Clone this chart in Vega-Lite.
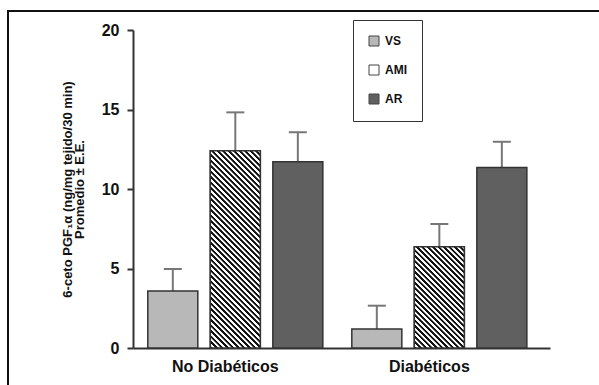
{
  "$schema": "https://vega.github.io/schema/vega-lite/v6.json",
  "width": 615,
  "height": 390,
  "autosize": "none",
  "padding": {"left": 8, "top": 11, "right": -24, "bottom": -16},
  "background": "white",
  "view": {"stroke": "#111111", "strokeWidth": 2},
  "config": {"font": "Liberation Sans"},
  "data": {"values": [
    {"grupo": "No Diabéticos", "serie": "VS", "media": 3.58, "superior": 4.97},
    {"grupo": "No Diabéticos", "serie": "AMI", "media": 12.41, "superior": 14.82},
    {"grupo": "No Diabéticos", "serie": "AR", "media": 11.72, "superior": 13.57},
    {"grupo": "Diabéticos", "serie": "VS", "media": 1.19, "superior": 2.66},
    {"grupo": "Diabéticos", "serie": "AMI", "media": 6.37, "superior": 7.8},
    {"grupo": "Diabéticos", "serie": "AR", "media": 11.36, "superior": 12.97}
  ]},
  "encoding": {
    "x": {
      "field": "grupo", "type": "nominal", "sort": ["No Diabéticos", "Diabéticos"],
      "scale": {"range": [125, 542], "paddingInner": 0.142, "paddingOuter": 0.093, "align": 0.39},
      "axis": {"orient": "bottom", "offset": -53, "title": null, "labelAngle": 0, "ticks": false, "tickSize": 0,
        "labelPadding": 10, "labelFontSize": 16, "labelFontWeight": "bold", "labelColor": "#111111",
        "labelOffset": -10, "domainColor": "#333333", "domainWidth": 2}
    },
    "xOffset": {"field": "serie", "type": "nominal", "sort": ["VS", "AMI", "AR"], "scale": {"paddingInner": 0.2, "paddingOuter": 0}},
    "y": {
      "field": "media", "type": "quantitative", "stack": null,
      "scale": {"domain": [0, 20], "range": [337, 19], "nice": false, "zero": true},
      "axis": {"offset": -125, "values": [0, 5, 10, 15, 20], "grid": false,
        "title": ["6-ceto  PGF₁α  (ng/mg tejido/30 min)", "Promedio ± E.E."],
        "titleFontSize": 13, "titleFontWeight": "bold", "titleColor": "#111111", "titleLineHeight": 12, "titlePadding": 15,
        "labelFontSize": 16, "labelFontWeight": "bold", "labelColor": "#111111", "labelPadding": 8,
        "tickSize": 6, "tickWidth": 2, "tickColor": "#333333", "domainColor": "#333333", "domainWidth": 2}
    }
  },
  "layer": [
    {
      "mark": {"type": "rule", "color": "#777777", "strokeWidth": 2},
      "encoding": {"y2": {"field": "superior"}}
    },
    {
      "mark": {"type": "tick", "color": "#777777", "thickness": 2, "size": 18, "opacity": 1},
      "encoding": {"y": {"field": "superior", "type": "quantitative"}}
    },
    {
      "mark": {"type": "bar", "stroke": "#333333", "strokeWidth": 1.5},
      "encoding": {
        "color": {
          "field": "serie", "type": "nominal",
          "scale": {"domain": ["VS", "AMI", "AR"], "range": ["#b8b8b8", "#ffffff", "#606060"]},
          "legend": {
            "orient": "none", "legendX": 345, "legendY": 9, "title": null,
            "padding": 15, "rowPadding": 15, "strokeColor": "#333333", "fillColor": "#ffffff",
            "symbolType": "square", "symbolSize": 100, "symbolStrokeColor": "#444444", "symbolStrokeWidth": 1, "symbolOpacity": 1,
            "labelFontSize": 12, "labelFontWeight": "bold", "labelColor": "#111111", "labelOffset": 5,
            "encode": {"symbols": {"update": {
              "stroke": {"value": "#444444"},
              "strokeWidth": {"value": 1}
            }}}
          }
        }
      }
    },
    {
      "transform": [{"filter": "datum.serie === 'AMI' && datum.grupo === 'No Diabéticos'"}],
      "mark": {"type": "bar", "stroke": "#333333", "strokeWidth": 1.5,
        "fill": {"gradient": "linear", "x1": 0, "y1": 1, "x2": 0.2987, "y2": -0.1778, "stops": [
          {"offset": 0, "color": "#111111"}, {"offset": 0.00889, "color": "#111111"}, {"offset": 0.01111, "color": "#ffffff"}, {"offset": 0.02, "color": "#ffffff"},
          {"offset": 0.02222, "color": "#111111"}, {"offset": 0.03111, "color": "#111111"}, {"offset": 0.03333, "color": "#ffffff"}, {"offset": 0.04222, "color": "#ffffff"},
          {"offset": 0.04444, "color": "#111111"}, {"offset": 0.05333, "color": "#111111"}, {"offset": 0.05556, "color": "#ffffff"}, {"offset": 0.06444, "color": "#ffffff"},
          {"offset": 0.06667, "color": "#111111"}, {"offset": 0.07556, "color": "#111111"}, {"offset": 0.07778, "color": "#ffffff"}, {"offset": 0.08667, "color": "#ffffff"},
          {"offset": 0.08889, "color": "#111111"}, {"offset": 0.09778, "color": "#111111"}, {"offset": 0.1, "color": "#ffffff"}, {"offset": 0.10889, "color": "#ffffff"},
          {"offset": 0.11111, "color": "#111111"}, {"offset": 0.12, "color": "#111111"}, {"offset": 0.12222, "color": "#ffffff"}, {"offset": 0.13111, "color": "#ffffff"},
          {"offset": 0.13333, "color": "#111111"}, {"offset": 0.14222, "color": "#111111"}, {"offset": 0.14444, "color": "#ffffff"}, {"offset": 0.15333, "color": "#ffffff"},
          {"offset": 0.15556, "color": "#111111"}, {"offset": 0.16444, "color": "#111111"}, {"offset": 0.16667, "color": "#ffffff"}, {"offset": 0.17556, "color": "#ffffff"},
          {"offset": 0.17778, "color": "#111111"}, {"offset": 0.18667, "color": "#111111"}, {"offset": 0.18889, "color": "#ffffff"}, {"offset": 0.19778, "color": "#ffffff"},
          {"offset": 0.2, "color": "#111111"}, {"offset": 0.20889, "color": "#111111"}, {"offset": 0.21111, "color": "#ffffff"}, {"offset": 0.22, "color": "#ffffff"},
          {"offset": 0.22222, "color": "#111111"}, {"offset": 0.23111, "color": "#111111"}, {"offset": 0.23333, "color": "#ffffff"}, {"offset": 0.24222, "color": "#ffffff"},
          {"offset": 0.24444, "color": "#111111"}, {"offset": 0.25333, "color": "#111111"}, {"offset": 0.25556, "color": "#ffffff"}, {"offset": 0.26444, "color": "#ffffff"},
          {"offset": 0.26667, "color": "#111111"}, {"offset": 0.27556, "color": "#111111"}, {"offset": 0.27778, "color": "#ffffff"}, {"offset": 0.28667, "color": "#ffffff"},
          {"offset": 0.28889, "color": "#111111"}, {"offset": 0.29778, "color": "#111111"}, {"offset": 0.3, "color": "#ffffff"}, {"offset": 0.30889, "color": "#ffffff"},
          {"offset": 0.31111, "color": "#111111"}, {"offset": 0.32, "color": "#111111"}, {"offset": 0.32222, "color": "#ffffff"}, {"offset": 0.33111, "color": "#ffffff"},
          {"offset": 0.33333, "color": "#111111"}, {"offset": 0.34222, "color": "#111111"}, {"offset": 0.34444, "color": "#ffffff"}, {"offset": 0.35333, "color": "#ffffff"},
          {"offset": 0.35556, "color": "#111111"}, {"offset": 0.36444, "color": "#111111"}, {"offset": 0.36667, "color": "#ffffff"}, {"offset": 0.37556, "color": "#ffffff"},
          {"offset": 0.37778, "color": "#111111"}, {"offset": 0.38667, "color": "#111111"}, {"offset": 0.38889, "color": "#ffffff"}, {"offset": 0.39778, "color": "#ffffff"},
          {"offset": 0.4, "color": "#111111"}, {"offset": 0.40889, "color": "#111111"}, {"offset": 0.41111, "color": "#ffffff"}, {"offset": 0.42, "color": "#ffffff"},
          {"offset": 0.42222, "color": "#111111"}, {"offset": 0.43111, "color": "#111111"}, {"offset": 0.43333, "color": "#ffffff"}, {"offset": 0.44222, "color": "#ffffff"},
          {"offset": 0.44444, "color": "#111111"}, {"offset": 0.45333, "color": "#111111"}, {"offset": 0.45556, "color": "#ffffff"}, {"offset": 0.46444, "color": "#ffffff"},
          {"offset": 0.46667, "color": "#111111"}, {"offset": 0.47556, "color": "#111111"}, {"offset": 0.47778, "color": "#ffffff"}, {"offset": 0.48667, "color": "#ffffff"},
          {"offset": 0.48889, "color": "#111111"}, {"offset": 0.49778, "color": "#111111"}, {"offset": 0.5, "color": "#ffffff"}, {"offset": 0.50889, "color": "#ffffff"},
          {"offset": 0.51111, "color": "#111111"}, {"offset": 0.52, "color": "#111111"}, {"offset": 0.52222, "color": "#ffffff"}, {"offset": 0.53111, "color": "#ffffff"},
          {"offset": 0.53333, "color": "#111111"}, {"offset": 0.54222, "color": "#111111"}, {"offset": 0.54444, "color": "#ffffff"}, {"offset": 0.55333, "color": "#ffffff"},
          {"offset": 0.55556, "color": "#111111"}, {"offset": 0.56444, "color": "#111111"}, {"offset": 0.56667, "color": "#ffffff"}, {"offset": 0.57556, "color": "#ffffff"},
          {"offset": 0.57778, "color": "#111111"}, {"offset": 0.58667, "color": "#111111"}, {"offset": 0.58889, "color": "#ffffff"}, {"offset": 0.59778, "color": "#ffffff"},
          {"offset": 0.6, "color": "#111111"}, {"offset": 0.60889, "color": "#111111"}, {"offset": 0.61111, "color": "#ffffff"}, {"offset": 0.62, "color": "#ffffff"},
          {"offset": 0.62222, "color": "#111111"}, {"offset": 0.63111, "color": "#111111"}, {"offset": 0.63333, "color": "#ffffff"}, {"offset": 0.64222, "color": "#ffffff"},
          {"offset": 0.64444, "color": "#111111"}, {"offset": 0.65333, "color": "#111111"}, {"offset": 0.65556, "color": "#ffffff"}, {"offset": 0.66444, "color": "#ffffff"},
          {"offset": 0.66667, "color": "#111111"}, {"offset": 0.67556, "color": "#111111"}, {"offset": 0.67778, "color": "#ffffff"}, {"offset": 0.68667, "color": "#ffffff"},
          {"offset": 0.68889, "color": "#111111"}, {"offset": 0.69778, "color": "#111111"}, {"offset": 0.7, "color": "#ffffff"}, {"offset": 0.70889, "color": "#ffffff"},
          {"offset": 0.71111, "color": "#111111"}, {"offset": 0.72, "color": "#111111"}, {"offset": 0.72222, "color": "#ffffff"}, {"offset": 0.73111, "color": "#ffffff"},
          {"offset": 0.73333, "color": "#111111"}, {"offset": 0.74222, "color": "#111111"}, {"offset": 0.74444, "color": "#ffffff"}, {"offset": 0.75333, "color": "#ffffff"},
          {"offset": 0.75556, "color": "#111111"}, {"offset": 0.76444, "color": "#111111"}, {"offset": 0.76667, "color": "#ffffff"}, {"offset": 0.77556, "color": "#ffffff"},
          {"offset": 0.77778, "color": "#111111"}, {"offset": 0.78667, "color": "#111111"}, {"offset": 0.78889, "color": "#ffffff"}, {"offset": 0.79778, "color": "#ffffff"},
          {"offset": 0.8, "color": "#111111"}, {"offset": 0.80889, "color": "#111111"}, {"offset": 0.81111, "color": "#ffffff"}, {"offset": 0.82, "color": "#ffffff"},
          {"offset": 0.82222, "color": "#111111"}, {"offset": 0.83111, "color": "#111111"}, {"offset": 0.83333, "color": "#ffffff"}, {"offset": 0.84222, "color": "#ffffff"},
          {"offset": 0.84444, "color": "#111111"}, {"offset": 0.85333, "color": "#111111"}, {"offset": 0.85556, "color": "#ffffff"}, {"offset": 0.86444, "color": "#ffffff"},
          {"offset": 0.86667, "color": "#111111"}, {"offset": 0.87556, "color": "#111111"}, {"offset": 0.87778, "color": "#ffffff"}, {"offset": 0.88667, "color": "#ffffff"},
          {"offset": 0.88889, "color": "#111111"}, {"offset": 0.89778, "color": "#111111"}, {"offset": 0.9, "color": "#ffffff"}, {"offset": 0.90889, "color": "#ffffff"},
          {"offset": 0.91111, "color": "#111111"}, {"offset": 0.92, "color": "#111111"}, {"offset": 0.92222, "color": "#ffffff"}, {"offset": 0.93111, "color": "#ffffff"},
          {"offset": 0.93333, "color": "#111111"}, {"offset": 0.94222, "color": "#111111"}, {"offset": 0.94444, "color": "#ffffff"}, {"offset": 0.95333, "color": "#ffffff"},
          {"offset": 0.95556, "color": "#111111"}, {"offset": 0.96444, "color": "#111111"}, {"offset": 0.96667, "color": "#ffffff"}, {"offset": 0.97556, "color": "#ffffff"},
          {"offset": 0.97778, "color": "#111111"}, {"offset": 0.98667, "color": "#111111"}, {"offset": 0.98889, "color": "#ffffff"}, {"offset": 0.99778, "color": "#ffffff"},
          {"offset": 1, "color": "#111111"}]}}
    },
    {
      "transform": [{"filter": "datum.serie === 'AMI' && datum.grupo === 'Diabéticos'"}],
      "mark": {"type": "bar", "stroke": "#333333", "strokeWidth": 1.5,
        "fill": {"gradient": "linear", "x1": 0, "y1": 1, "x2": 0.5903, "y2": -0.2013, "stops": [
          {"offset": 0, "color": "#111111"}, {"offset": 0.01429, "color": "#111111"}, {"offset": 0.01786, "color": "#ffffff"}, {"offset": 0.03214, "color": "#ffffff"},
          {"offset": 0.03571, "color": "#111111"}, {"offset": 0.05, "color": "#111111"}, {"offset": 0.05357, "color": "#ffffff"}, {"offset": 0.06786, "color": "#ffffff"},
          {"offset": 0.07143, "color": "#111111"}, {"offset": 0.08571, "color": "#111111"}, {"offset": 0.08929, "color": "#ffffff"}, {"offset": 0.10357, "color": "#ffffff"},
          {"offset": 0.10714, "color": "#111111"}, {"offset": 0.12143, "color": "#111111"}, {"offset": 0.125, "color": "#ffffff"}, {"offset": 0.13929, "color": "#ffffff"},
          {"offset": 0.14286, "color": "#111111"}, {"offset": 0.15714, "color": "#111111"}, {"offset": 0.16071, "color": "#ffffff"}, {"offset": 0.175, "color": "#ffffff"},
          {"offset": 0.17857, "color": "#111111"}, {"offset": 0.19286, "color": "#111111"}, {"offset": 0.19643, "color": "#ffffff"}, {"offset": 0.21071, "color": "#ffffff"},
          {"offset": 0.21429, "color": "#111111"}, {"offset": 0.22857, "color": "#111111"}, {"offset": 0.23214, "color": "#ffffff"}, {"offset": 0.24643, "color": "#ffffff"},
          {"offset": 0.25, "color": "#111111"}, {"offset": 0.26429, "color": "#111111"}, {"offset": 0.26786, "color": "#ffffff"}, {"offset": 0.28214, "color": "#ffffff"},
          {"offset": 0.28571, "color": "#111111"}, {"offset": 0.3, "color": "#111111"}, {"offset": 0.30357, "color": "#ffffff"}, {"offset": 0.31786, "color": "#ffffff"},
          {"offset": 0.32143, "color": "#111111"}, {"offset": 0.33571, "color": "#111111"}, {"offset": 0.33929, "color": "#ffffff"}, {"offset": 0.35357, "color": "#ffffff"},
          {"offset": 0.35714, "color": "#111111"}, {"offset": 0.37143, "color": "#111111"}, {"offset": 0.375, "color": "#ffffff"}, {"offset": 0.38929, "color": "#ffffff"},
          {"offset": 0.39286, "color": "#111111"}, {"offset": 0.40714, "color": "#111111"}, {"offset": 0.41071, "color": "#ffffff"}, {"offset": 0.425, "color": "#ffffff"},
          {"offset": 0.42857, "color": "#111111"}, {"offset": 0.44286, "color": "#111111"}, {"offset": 0.44643, "color": "#ffffff"}, {"offset": 0.46071, "color": "#ffffff"},
          {"offset": 0.46429, "color": "#111111"}, {"offset": 0.47857, "color": "#111111"}, {"offset": 0.48214, "color": "#ffffff"}, {"offset": 0.49643, "color": "#ffffff"},
          {"offset": 0.5, "color": "#111111"}, {"offset": 0.51429, "color": "#111111"}, {"offset": 0.51786, "color": "#ffffff"}, {"offset": 0.53214, "color": "#ffffff"},
          {"offset": 0.53571, "color": "#111111"}, {"offset": 0.55, "color": "#111111"}, {"offset": 0.55357, "color": "#ffffff"}, {"offset": 0.56786, "color": "#ffffff"},
          {"offset": 0.57143, "color": "#111111"}, {"offset": 0.58571, "color": "#111111"}, {"offset": 0.58929, "color": "#ffffff"}, {"offset": 0.60357, "color": "#ffffff"},
          {"offset": 0.60714, "color": "#111111"}, {"offset": 0.62143, "color": "#111111"}, {"offset": 0.625, "color": "#ffffff"}, {"offset": 0.63929, "color": "#ffffff"},
          {"offset": 0.64286, "color": "#111111"}, {"offset": 0.65714, "color": "#111111"}, {"offset": 0.66071, "color": "#ffffff"}, {"offset": 0.675, "color": "#ffffff"},
          {"offset": 0.67857, "color": "#111111"}, {"offset": 0.69286, "color": "#111111"}, {"offset": 0.69643, "color": "#ffffff"}, {"offset": 0.71071, "color": "#ffffff"},
          {"offset": 0.71429, "color": "#111111"}, {"offset": 0.72857, "color": "#111111"}, {"offset": 0.73214, "color": "#ffffff"}, {"offset": 0.74643, "color": "#ffffff"},
          {"offset": 0.75, "color": "#111111"}, {"offset": 0.76429, "color": "#111111"}, {"offset": 0.76786, "color": "#ffffff"}, {"offset": 0.78214, "color": "#ffffff"},
          {"offset": 0.78571, "color": "#111111"}, {"offset": 0.8, "color": "#111111"}, {"offset": 0.80357, "color": "#ffffff"}, {"offset": 0.81786, "color": "#ffffff"},
          {"offset": 0.82143, "color": "#111111"}, {"offset": 0.83571, "color": "#111111"}, {"offset": 0.83929, "color": "#ffffff"}, {"offset": 0.85357, "color": "#ffffff"},
          {"offset": 0.85714, "color": "#111111"}, {"offset": 0.87143, "color": "#111111"}, {"offset": 0.875, "color": "#ffffff"}, {"offset": 0.88929, "color": "#ffffff"},
          {"offset": 0.89286, "color": "#111111"}, {"offset": 0.90714, "color": "#111111"}, {"offset": 0.91071, "color": "#ffffff"}, {"offset": 0.925, "color": "#ffffff"},
          {"offset": 0.92857, "color": "#111111"}, {"offset": 0.94286, "color": "#111111"}, {"offset": 0.94643, "color": "#ffffff"}, {"offset": 0.96071, "color": "#ffffff"},
          {"offset": 0.96429, "color": "#111111"}, {"offset": 0.97857, "color": "#111111"}, {"offset": 0.98214, "color": "#ffffff"}, {"offset": 0.99643, "color": "#ffffff"},
          {"offset": 1, "color": "#111111"}]}}
    }
  ]
}
